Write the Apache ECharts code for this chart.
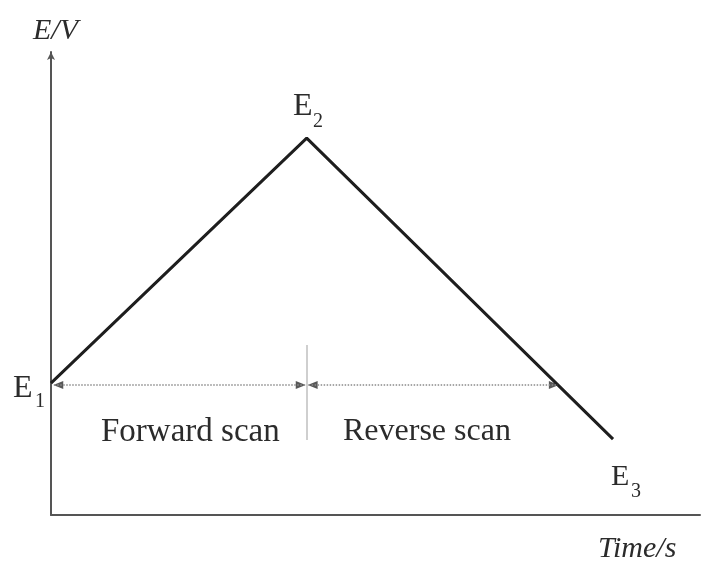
<!DOCTYPE html>
<html>
<head>
<meta charset="utf-8">
<script src="https://cdn.jsdelivr.net/npm/echarts@6/dist/echarts.min.js"></script>
<style>
  html, body { margin: 0; padding: 0; background: #fff; }
  #chart { width: 702px; height: 562px; }
</style>
</head>
<body>
<div id="chart"></div>
<script>
// Triangular potential waveform for cyclic voltammetry (arbitrary units)
const scanTimes = [0, 39.4, 86.6];        // start, switching point, end
const scanPotentials = [28.5, 81.4, 16.4]; // E1, E2, E3

// Horizontal double-headed arrows marking the forward / reverse scan spans
const arrowLevel = 28.1;
const forwardSpan = [0.5, 39.1];
const reverseSpan = [39.7, 78.1];

// Short vertical divider at the switching time
const dividerTime = 39.4;
const dividerRange = [16.2, 36.7];

const serif = '"Liberation Serif", "DejaVu Serif", serif';
const ink = '#2b2b2b';

const chart = echarts.init(document.getElementById('chart'));

const waveform = scanTimes.map((t, i) => [t, scanPotentials[i]]);

// Arrow heads: left-pointing at span starts, right-pointing at span ends
const headsLeft = [[forwardSpan[0], arrowLevel], [reverseSpan[0], arrowLevel]];
const headsRight = [[forwardSpan[1], arrowLevel], [reverseSpan[1], arrowLevel]];

const headSeries = (data, rotate, offset) => ({
  type: 'scatter',
  data: data,
  symbol: 'triangle',
  symbolSize: [8, 10],
  symbolRotate: rotate,
  symbolOffset: offset,
  itemStyle: { color: '#2e2e2e' },
  silent: true,
  z: 3
});

chart.setOption({
  backgroundColor: '#ffffff',
  animation: false,
  grid: { left: 51, right: 2, top: 52, bottom: 47 },
  xAxis: {
    type: 'value', min: 0, max: 100,
    axisLine: { show: true, lineStyle: { color: '#555', width: 2 }, symbol: ['none', 'none'] },
    axisTick: { show: false }, axisLabel: { show: false }, splitLine: { show: false }
  },
  yAxis: {
    type: 'value', min: 0, max: 100,
    axisLine: { show: true, lineStyle: { color: '#555', width: 2 }, symbol: ['none', 'arrow'], symbolSize: [6, 8] },
    axisTick: { show: false }, axisLabel: { show: false }, splitLine: { show: false }
  },
  series: [
    {
      type: 'line',
      data: waveform,
      showSymbol: false,
      lineStyle: { color: '#1e1e1e', width: 3 },
      z: 4,
      markLine: {
        silent: true,
        symbol: ['none', 'none'],
        label: { show: false },
        lineStyle: { color: '#8a8a8a', width: 1.5, type: 'dotted' },
        data: [
          [{ coord: [forwardSpan[0], arrowLevel] }, { coord: [forwardSpan[1], arrowLevel] }],
          [{ coord: [reverseSpan[0], arrowLevel] }, { coord: [reverseSpan[1], arrowLevel] }],
          [
            { coord: [dividerTime, dividerRange[0]], lineStyle: { color: '#cfcfcf', width: 2, type: 'solid' } },
            { coord: [dividerTime, dividerRange[1]] }
          ]
        ]
      }
    },
    headSeries(headsLeft, 90, [4, 0]),
    headSeries(headsRight, -90, [-4, 0])
  ],
  graphic: [
    { type: 'text', left: 33, top: 16, style: { text: 'E/V', font: 'italic 30px ' + serif, fill: ink } },
    { type: 'text', left: 598, top: 534, style: { text: 'Time/s', font: 'italic 30px ' + serif, fill: ink } },
    { type: 'text', left: 101, top: 416, style: { text: 'Forward scan', font: '33px ' + serif, fill: ink } },
    { type: 'text', left: 343, top: 416, style: { text: 'Reverse scan', font: '32px ' + serif, fill: ink } },
    { type: 'text', left: 13, top: 373, style: { text: 'E', font: '32px ' + serif, fill: ink } },
    { type: 'text', left: 35, top: 392, style: { text: '1', font: '20px ' + serif, fill: ink } },
    { type: 'text', left: 293, top: 91, style: { text: 'E', font: '32px ' + serif, fill: ink } },
    { type: 'text', left: 313, top: 112, style: { text: '2', font: '20px ' + serif, fill: ink } },
    { type: 'text', left: 611, top: 462, style: { text: 'E', font: '30px ' + serif, fill: ink } },
    { type: 'text', left: 631, top: 482, style: { text: '3', font: '20px ' + serif, fill: ink } }
  ]
});
</script>
</body>
</html>
